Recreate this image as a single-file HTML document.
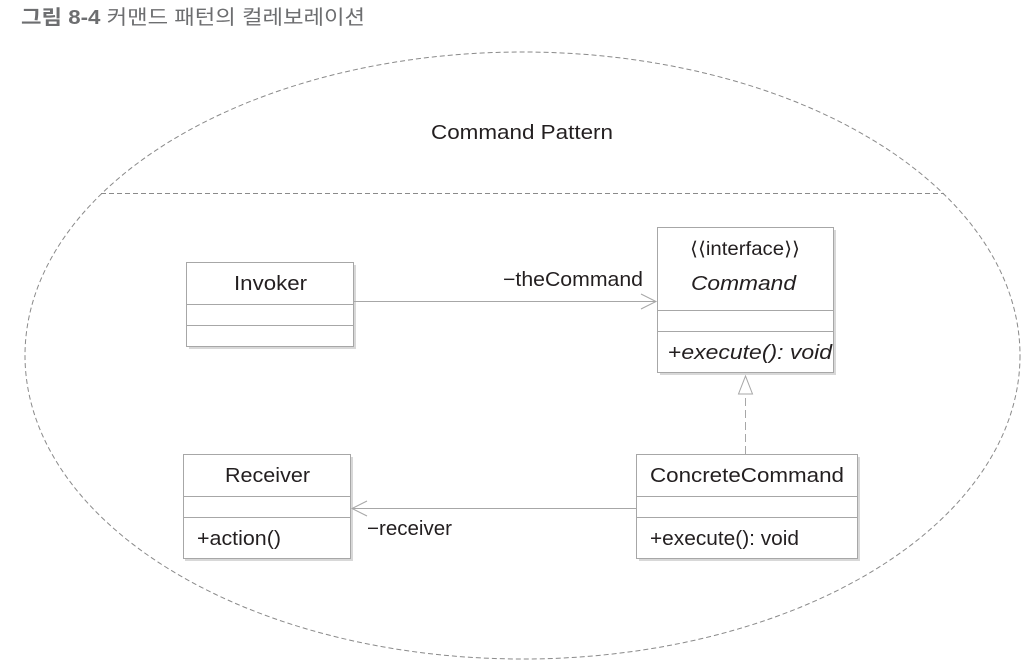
<!DOCTYPE html>
<html><head><meta charset="utf-8"><style>
html,body{margin:0;padding:0;background:#fff;width:1031px;height:667px;overflow:hidden}
svg{display:block}
text{font-family:"Liberation Sans","Noto Sans CJK KR",sans-serif;fill:#231f20}
</style></head><body>
<svg width="1031" height="667" viewBox="0 0 1031 667" xmlns="http://www.w3.org/2000/svg">
<text x="21" y="24" font-size="20" style="fill:#6d6e70" font-weight="bold" textLength="344" lengthAdjust="spacingAndGlyphs">그림 8-4 <tspan font-weight="normal">커맨드 패턴의 컬레보레이션</tspan></text>
<ellipse cx="522.5" cy="355.5" rx="497.5" ry="303.5" fill="none" stroke="#8a8a8a" stroke-width="1" stroke-dasharray="5,3"/>
<line x1="101" y1="193.5" x2="944" y2="193.5" stroke="#8a8a8a" stroke-dasharray="5,3"/>
<text x="431" y="139" font-size="20" textLength="182" lengthAdjust="spacingAndGlyphs">Command Pattern</text>
<g fill="#fff" stroke="#c8c8c8" stroke-width="1">
<rect x="189" y="265" width="167" height="84" fill="#d8d8d8" stroke="none"/>
<rect x="660" y="230" width="176" height="145" fill="#d8d8d8" stroke="none"/>
<rect x="185" y="457" width="168" height="104" fill="#d8d8d8" stroke="none"/>
<rect x="639" y="457" width="221" height="104" fill="#d8d8d8" stroke="none"/>
<g stroke="#a7a7a7">
<rect x="186.5" y="262.5" width="167" height="84"/>
<line x1="186.5" y1="304.5" x2="353.5" y2="304.5"/><line x1="186.5" y1="325.5" x2="353.5" y2="325.5"/>
<rect x="657.5" y="227.5" width="176" height="145"/>
<line x1="657.5" y1="310.5" x2="833.5" y2="310.5"/><line x1="657.5" y1="331.5" x2="833.5" y2="331.5"/>
<rect x="183.5" y="454.5" width="167" height="104"/>
<line x1="183.5" y1="496.5" x2="350.5" y2="496.5"/><line x1="183.5" y1="517.5" x2="350.5" y2="517.5"/>
<rect x="636.5" y="454.5" width="221" height="104"/>
<line x1="636.5" y1="496.5" x2="857.5" y2="496.5"/><line x1="636.5" y1="517.5" x2="857.5" y2="517.5"/>
</g></g>
<text x="234" y="290" font-size="20" textLength="73" lengthAdjust="spacingAndGlyphs">Invoker</text>
<text x="690" y="255" font-size="19" textLength="110" lengthAdjust="spacingAndGlyphs">⟨⟨interface⟩⟩</text>
<text x="691" y="290" font-size="20" font-style="italic" textLength="105" lengthAdjust="spacingAndGlyphs">Command</text>
<text x="668" y="359" font-size="20" textLength="164" lengthAdjust="spacingAndGlyphs">+<tspan font-style="italic">execute(): void</tspan></text>
<text x="225" y="482" font-size="20" textLength="85" lengthAdjust="spacingAndGlyphs">Receiver</text>
<text x="197" y="545" font-size="20" textLength="84" lengthAdjust="spacingAndGlyphs">+action()</text>
<text x="650" y="482" font-size="20" textLength="194" lengthAdjust="spacingAndGlyphs">ConcreteCommand</text>
<text x="650" y="545" font-size="20" textLength="149" lengthAdjust="spacingAndGlyphs">+execute(): void</text>
<g stroke="#a7a7a7" fill="none" stroke-width="1">
<line x1="354" y1="301.5" x2="656" y2="301.5"/>
<polyline points="641,294 656,301.5 641,309"/>
<line x1="745.5" y1="454" x2="745.5" y2="394" stroke-dasharray="8,4"/>
<polygon points="745.5,376 738.5,394 752.5,394" fill="#fff"/>
<line x1="636" y1="508.5" x2="352" y2="508.5"/>
<polyline points="367,501 352,508.5 367,516"/>
</g>
<text x="503" y="286" font-size="20" textLength="140" lengthAdjust="spacingAndGlyphs">−theCommand</text>
<text x="367" y="535" font-size="20" textLength="85" lengthAdjust="spacingAndGlyphs">−receiver</text>
</svg>
</body></html>
